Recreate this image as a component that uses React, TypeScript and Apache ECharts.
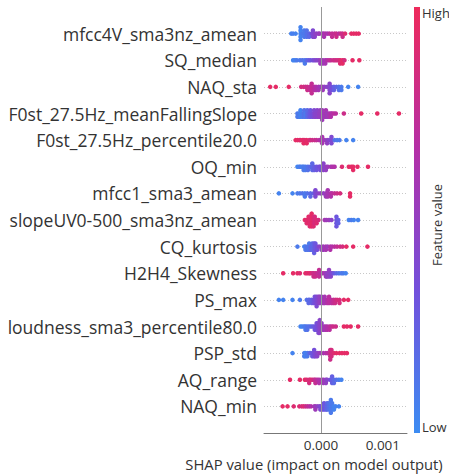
import React, { useEffect, useRef } from "react";
import * as echarts from "echarts";

// Feature names, top to bottom
const FEATURES = [
  "mfcc4V_sma3nz_amean",
  "SQ_median",
  "NAQ_sta",
  "F0st_27.5Hz_meanFallingSlope",
  "F0st_27.5Hz_percentile20.0",
  "OQ_min",
  "mfcc1_sma3_amean",
  "slopeUV0-500_sma3nz_amean",
  "CQ_kurtosis",
  "H2H4_Skewness",
  "PS_max",
  "loudness_sma3_percentile80.0",
  "PSP_std",
  "AQ_range",
  "NAQ_min",
];

// Each entry: [SHAP value in units of 1e-3, normalised feature value (0 low .. 1 high), number of samples]
const mfcc4V: number[][] = [
  [-0.48, 0.05, 1], [-0.45, 0.08, 1], [-0.41, 0.05, 1],
  [-0.33, 0.05, 5], [-0.30, 0.1, 1], [-0.27, 0.1, 3], [-0.23, 0.15, 3], [-0.19, 0.2, 2],
  [-0.15, 0.35, 1], [-0.13, 0.4, 3], [-0.10, 0.45, 2], [-0.07, 0.5, 1], [-0.04, 0.5, 1], [-0.02, 0.55, 1],
  [0.03, 0.55, 1], [0.05, 0.6, 2], [0.08, 0.65, 1], [0.11, 0.6, 1], [0.14, 0.7, 1],
  [0.18, 0.75, 2], [0.22, 0.75, 1], [0.25, 0.8, 2], [0.29, 0.7, 1], [0.32, 0.8, 1], [0.35, 0.8, 2], [0.39, 0.9, 1],
  [0.49, 0.95, 1], [0.53, 0.95, 1], [0.57, 0.95, 1], [0.61, 0.95, 1],
];
const sqMedian: number[][] = [
  [-0.45, 0.05, 1], [-0.42, 0.05, 1], [-0.39, 0.1, 1],
  [-0.34, 0.1, 1], [-0.30, 0.15, 1], [-0.26, 0.1, 2], [-0.23, 0.2, 1], [-0.20, 0.25, 1], [-0.17, 0.3, 1],
  [-0.13, 0.35, 1], [-0.10, 0.4, 1], [-0.07, 0.45, 1], [-0.04, 0.45, 1],
  [-0.01, 0.55, 2], [0.03, 0.55, 2], [0.07, 0.6, 2], [0.10, 0.65, 1], [0.13, 0.7, 1], [0.16, 0.75, 1],
  [0.20, 0.8, 1], [0.23, 0.8, 1], [0.26, 0.85, 1], [0.29, 0.8, 1], [0.31, 0.9, 2], [0.35, 0.95, 2], [0.38, 0.85, 1],
  [0.51, 0.95, 1], [0.62, 0.95, 1],
];
const naqSta: number[][] = [
  [-0.82, 0.95, 1], [-0.73, 0.95, 1], [-0.52, 0.95, 1],
  [-0.32, 0.85, 1], [-0.28, 0.85, 1], [-0.25, 0.8, 1], [-0.22, 0.8, 2], [-0.18, 0.75, 2], [-0.15, 0.75, 4],
  [-0.11, 0.7, 2], [-0.08, 0.65, 2], [-0.04, 0.6, 2], [-0.01, 0.55, 1], [0.03, 0.55, 2], [0.06, 0.5, 1],
  [0.10, 0.45, 1], [0.14, 0.45, 4], [0.17, 0.35, 2], [0.21, 0.25, 2], [0.25, 0.2, 1], [0.29, 0.15, 2],
  [0.33, 0.1, 2], [0.44, 0.05, 1], [0.60, 0.05, 1],
];
const f0Falling: number[][] = [
  [-0.38, 0.1, 2], [-0.35, 0.1, 2], [-0.33, 0.05, 3], [-0.30, 0.1, 2], [-0.27, 0.15, 3], [-0.25, 0.1, 2],
  [-0.22, 0.2, 3], [-0.19, 0.25, 2], [-0.17, 0.3, 3], [-0.14, 0.35, 2], [-0.11, 0.4, 3], [-0.09, 0.45, 2],
  [-0.06, 0.45, 3], [-0.03, 0.5, 2], [-0.01, 0.5, 3], [0.02, 0.55, 4], [0.05, 0.55, 2], [0.08, 0.6, 3],
  [0.10, 0.55, 2], [0.13, 0.6, 2], [0.16, 0.65, 2], [0.18, 0.65, 1], [0.21, 0.7, 1], [0.24, 0.7, 1],
  [0.37, 0.8, 1], [0.65, 0.95, 1], [0.91, 0.95, 1], [1.26, 0.95, 1],
];
const f0P20: number[][] = [
  [-0.41, 0.95, 1], [-0.38, 0.95, 1], [-0.35, 0.95, 1], [-0.33, 0.9, 1], [-0.30, 0.95, 1], [-0.28, 0.95, 2],
  [-0.26, 0.9, 1], [-0.23, 0.95, 2], [-0.19, 0.9, 1], [-0.17, 0.85, 1], [-0.14, 0.8, 1], [-0.10, 0.8, 1],
  [-0.07, 0.75, 1], [-0.03, 0.7, 1], [-0.01, 0.65, 1], [0.02, 0.6, 3], [0.06, 0.55, 1], [0.10, 0.5, 2],
  [0.13, 0.45, 1], [0.17, 0.4, 3], [0.22, 0.15, 1], [0.26, 0.1, 1], [0.30, 0.1, 1], [0.41, 0.05, 1], [0.52, 0.05, 1],
];
const oqMin: number[][] = [
  [-0.38, 0.05, 1], [-0.35, 0.05, 1], [-0.33, 0.1, 1], [-0.30, 0.05, 1], [-0.28, 0.1, 2], [-0.25, 0.1, 2],
  [-0.21, 0.15, 2], [-0.17, 0.2, 1], [-0.14, 0.2, 3], [-0.11, 0.25, 2], [-0.07, 0.3, 2], [-0.03, 0.35, 1],
  [-0.01, 0.35, 2], [0.04, 0.45, 3], [0.08, 0.5, 2], [0.11, 0.55, 1], [0.16, 0.6, 1], [0.19, 0.65, 1],
  [0.22, 0.65, 1], [0.34, 0.9, 1], [0.45, 0.95, 1], [0.49, 0.95, 1], [0.52, 0.95, 2], [0.59, 0.95, 1], [0.76, 0.95, 1],
];
const mfcc1: number[][] = [
  [-0.68, 0.05, 1], [-0.46, 0.05, 1], [-0.38, 0.1, 1], [-0.34, 0.1, 1], [-0.30, 0.15, 1], [-0.26, 0.1, 2],
  [-0.22, 0.15, 1], [-0.17, 0.2, 2], [-0.12, 0.25, 1], [-0.09, 0.4, 3], [-0.05, 0.45, 1], [-0.01, 0.5, 1],
  [0.04, 0.5, 1], [0.08, 0.55, 2], [0.11, 0.6, 3], [0.16, 0.65, 2], [0.18, 0.7, 1], [0.22, 0.75, 1],
  [0.26, 0.8, 1], [0.31, 0.85, 1], [0.47, 0.95, 2],
];
const slopeUV: number[][] = [
  [-0.26, 0.95, 1], [-0.23, 0.9, 2], [-0.20, 0.95, 3], [-0.18, 0.9, 4], [-0.15, 0.95, 5], [-0.12, 0.9, 4],
  [-0.10, 0.85, 3], [-0.07, 0.9, 2], [-0.04, 0.85, 1], [0.06, 0.6, 1], [0.09, 0.55, 1], [0.13, 0.55, 1],
  [0.17, 0.45, 1], [0.25, 0.3, 4], [0.28, 0.25, 2], [0.45, 0.05, 1], [0.49, 0.1, 1], [0.53, 0.05, 1], [0.60, 0.05, 1],
];
const cqKurtosis: number[][] = [
  [-0.38, 0.1, 1], [-0.27, 0.05, 1], [-0.25, 0.1, 2], [-0.22, 0.15, 2], [-0.19, 0.1, 3], [-0.17, 0.2, 2],
  [-0.14, 0.2, 3], [-0.11, 0.25, 4], [-0.09, 0.3, 3], [-0.06, 0.35, 2], [-0.03, 0.45, 1], [0.01, 0.5, 2],
  [0.04, 0.55, 2], [0.08, 0.6, 2], [0.11, 0.55, 1], [0.15, 0.65, 2], [0.18, 0.65, 1], [0.22, 0.7, 1],
  [0.26, 0.75, 1], [0.31, 0.8, 1], [0.35, 0.85, 1], [0.41, 0.95, 1], [0.52, 0.95, 1], [0.75, 0.95, 1],
];
const h2h4: number[][] = [
  [-0.61, 0.95, 1], [-0.45, 0.95, 1], [-0.38, 0.95, 1], [-0.34, 0.9, 1], [-0.25, 0.95, 1], [-0.22, 0.9, 1],
  [-0.19, 0.95, 1], [-0.17, 0.9, 1], [-0.14, 0.85, 1], [-0.12, 0.8, 2], [-0.09, 0.8, 2], [-0.06, 0.75, 1],
  [-0.03, 0.75, 3], [-0.01, 0.7, 1], [0.02, 0.65, 1], [0.05, 0.6, 1], [0.08, 0.55, 2], [0.10, 0.5, 2],
  [0.13, 0.5, 3], [0.16, 0.45, 2], [0.18, 0.4, 1], [0.21, 0.3, 1], [0.25, 0.2, 1], [0.29, 0.15, 1],
  [0.33, 0.1, 1], [0.36, 0.1, 1], [0.40, 0.05, 1],
];
const psMax: number[][] = [
  [-0.68, 0.05, 1], [-0.61, 0.05, 1], [-0.46, 0.05, 1], [-0.34, 0.1, 1], [-0.23, 0.15, 1], [-0.20, 0.2, 2],
  [-0.18, 0.2, 1], [-0.15, 0.25, 2], [-0.12, 0.3, 2], [-0.10, 0.35, 3], [-0.07, 0.4, 4], [-0.04, 0.45, 3],
  [-0.02, 0.5, 3], [0.01, 0.5, 3], [0.04, 0.55, 2], [0.06, 0.6, 3], [0.10, 0.65, 2], [0.13, 0.7, 3],
  [0.17, 0.7, 2], [0.20, 0.75, 2], [0.23, 0.8, 2], [0.26, 0.85, 1], [0.30, 0.85, 2], [0.37, 0.95, 1], [0.44, 0.95, 1],
];
const loudness: number[][] = [
  [-0.33, 0.05, 1], [-0.30, 0.05, 1], [-0.27, 0.1, 1], [-0.25, 0.1, 2], [-0.22, 0.15, 2], [-0.19, 0.15, 1],
  [-0.16, 0.2, 1], [-0.13, 0.25, 1], [-0.10, 0.3, 2], [-0.07, 0.35, 3], [-0.04, 0.4, 4], [-0.02, 0.45, 5],
  [0.01, 0.5, 3], [0.04, 0.55, 2], [0.07, 0.6, 2], [0.10, 0.65, 2], [0.14, 0.7, 2], [0.17, 0.75, 1],
  [0.20, 0.8, 1], [0.24, 0.8, 1], [0.37, 0.95, 1], [0.42, 0.95, 1], [0.48, 0.95, 1], [0.60, 0.95, 1],
];
const pspStd: number[][] = [
  [-0.46, 0.05, 1], [-0.27, 0.1, 2], [-0.25, 0.05, 2], [-0.22, 0.1, 2], [-0.19, 0.15, 1], [-0.17, 0.25, 1],
  [-0.14, 0.3, 2], [-0.11, 0.35, 3], [-0.09, 0.4, 2], [-0.06, 0.45, 2], [-0.03, 0.5, 1], [-0.01, 0.55, 1],
  [0.04, 0.6, 1], [0.08, 0.65, 1], [0.11, 0.7, 1], [0.15, 0.8, 4], [0.17, 0.85, 3], [0.21, 0.9, 1],
  [0.25, 0.95, 1], [0.30, 0.95, 1], [0.34, 0.95, 1], [0.38, 0.95, 1], [0.42, 0.95, 1],
];
const aqRange: number[][] = [
  [-0.50, 0.95, 1], [-0.34, 0.95, 1], [-0.26, 0.95, 1], [-0.23, 0.9, 1], [-0.19, 0.85, 2], [-0.17, 0.9, 1],
  [-0.14, 0.85, 1], [-0.11, 0.8, 1], [-0.09, 0.75, 2], [-0.06, 0.7, 1], [-0.03, 0.65, 2], [0.01, 0.6, 1],
  [0.04, 0.55, 2], [0.08, 0.5, 2], [0.10, 0.45, 1], [0.15, 0.35, 1], [0.18, 0.25, 3], [0.21, 0.2, 2],
  [0.25, 0.15, 1], [0.29, 0.1, 1], [0.33, 0.05, 1],
];
const naqMin: number[][] = [
  [-0.62, 0.95, 1], [-0.54, 0.95, 1], [-0.44, 0.9, 1], [-0.35, 0.9, 1], [-0.31, 0.85, 1], [-0.28, 0.9, 1],
  [-0.25, 0.8, 1], [-0.22, 0.75, 1], [-0.19, 0.7, 1], [-0.16, 0.65, 1], [-0.11, 0.6, 1], [-0.09, 0.55, 2],
  [-0.06, 0.5, 1], [-0.03, 0.45, 1], [-0.01, 0.4, 2], [0.02, 0.35, 2], [0.05, 0.3, 3], [0.08, 0.25, 2],
  [0.10, 0.2, 3], [0.13, 0.15, 3], [0.16, 0.1, 5], [0.18, 0.1, 3], [0.21, 0.05, 2], [0.24, 0.05, 1], [0.29, 0.05, 1],
];

const ROWS = [
  mfcc4V, sqMedian, naqSta, f0Falling, f0P20, oqMin, mfcc1, slopeUV,
  cqKurtosis, h2h4, psMax, loudness, pspStd, aqRange, naqMin,
];

const X_TICKS = [0, 0.001];
const UNIT = 1e-3;
const COLOR_LOW = "#3c8cf2";
const COLOR_HIGH = "#ee2a5b";
const PALETTE = [COLOR_LOW, "#7250dc", "#b42fa6", COLOR_HIGH];
const FONT = "'Open Sans', 'Noto Sans', sans-serif";

// SHAP-style beeswarm layout: points in the same x-bin are stacked alternately above/below the row
function swarm(xs: number[]): number[] {
  const mn = Math.min(...xs);
  const mx = Math.max(...xs);
  const nbins = 100;
  const quant = xs.map((x) => Math.round((nbins * (x - mn)) / (mx - mn + 1e-8)));
  const order = xs.map((_, i) => i).sort((a, b) => quant[a] - quant[b] || a - b);
  const ys = new Array(xs.length).fill(0);
  let layer = 0;
  let last = -1;
  for (const ind of order) {
    if (quant[ind] !== last) layer = 0;
    ys[ind] = Math.ceil(layer / 2) * ((layer % 2) * 2 - 1);
    layer += 1;
    last = quant[ind];
  }
  return ys;
}

export default function App() {
  const ref = useRef<HTMLDivElement>(null);
  useEffect(() => {
    if (!ref.current) return;
    const chart = echarts.init(ref.current, null, { renderer: "svg" });
    const STEP = 0.12;
    const points: number[][] = [];
    ROWS.forEach((row, r) => {
      const xs: number[] = [];
      const fv: number[] = [];
      row.forEach(([x, v, n]) => {
        for (let k = 0; k < n; k++) {
          xs.push(x);
          fv.push(v);
        }
      });
      const ys = swarm(xs);
      xs.forEach((x, i) => points.push([x * UNIT, r + ys[i] * STEP, fv[i]]));
    });

    // dotted row guides at 0..n-1 only (hide the ones at the axis ends)
    const guideColors = ["rgba(0,0,0,0)"]
      .concat(FEATURES.map(() => "#c8c8c8"))
      .concat(["rgba(0,0,0,0)"]);

    chart.setOption({
      animation: false,
      grid: { left: 264, right: 42, top: 7, bottom: 42 },
      xAxis: {
        type: "value",
        min: -0.00092,
        max: 0.00139,
        axisLine: { show: true, onZero: false, lineStyle: { color: "#777", width: 1 } },
        axisTick: { show: false },
        splitLine: { show: false },
        axisLabel: {
          customValues: X_TICKS,
          formatter: (v: number) => v.toFixed(3),
          fontFamily: FONT,
          fontSize: 13.5,
          color: "#333",
          margin: 5,
        },
      },
      yAxis: {
        type: "value",
        min: -1,
        max: FEATURES.length,
        interval: 1,
        inverse: true,
        axisLine: { show: false, onZero: false },
        axisTick: { show: false },
        splitLine: {
          show: true,
          lineStyle: { color: guideColors, type: [1, 2], width: 1 },
        },
        axisLabel: {
          formatter: (v: number) => FEATURES[v] ?? "",
          fontFamily: FONT,
          fontSize: 17.5,
          color: "#333",
          margin: 7,
        },
      },
      visualMap: {
        show: false,
        type: "continuous",
        dimension: 2,
        min: 0,
        max: 1,
        seriesIndex: 0,
        inRange: { color: PALETTE },
      },
      series: [
        {
          type: "scatter",
          data: points,
          symbolSize: 4.5,
          itemStyle: { opacity: 1 },
          z: 3,
        },
        {
          type: "scatter",
          data: [],
          silent: true,
          z: 2,
          markLine: {
            silent: true,
            symbol: "none",
            label: { show: false },
            lineStyle: { color: "#999", type: "solid", width: 1 },
            data: [{ xAxis: 0 }],
          },
        },
      ],
      graphic: [
        {
          type: "rect",
          shape: { x: 414, y: 7, width: 6, height: 426 },
          style: {
            fill: new echarts.graphic.LinearGradient(0, 0, 0, 1, [
              { offset: 0, color: PALETTE[3] },
              { offset: 1 / 3, color: PALETTE[2] },
              { offset: 2 / 3, color: PALETTE[1] },
              { offset: 1, color: PALETTE[0] },
            ]),
          },
        },
        {
          type: "text",
          x: 422,
          y: 13,
          style: { text: "High", fontFamily: FONT, fontSize: 13, fill: "#333", verticalAlign: "middle" },
        },
        {
          type: "text",
          x: 422,
          y: 427,
          style: { text: "Low", fontFamily: FONT, fontSize: 13, fill: "#333", verticalAlign: "middle" },
        },
        {
          type: "text",
          x: 437,
          y: 225,
          rotation: Math.PI / 2,
          style: {
            text: "Feature value",
            fontFamily: FONT,
            fontSize: 13,
            fill: "#333",
            align: "center",
            verticalAlign: "middle",
          },
        },
        {
          type: "text",
          x: 314,
          y: 464,
          style: {
            text: "SHAP value (impact on model output)",
            fontFamily: FONT,
            fontSize: 14.8,
            fill: "#333",
            align: "center",
            verticalAlign: "middle",
          },
        },
      ],
    });
    return () => chart.dispose();
  }, []);
  return (
    <div
      ref={ref}
      style={{ position: "absolute", left: 0, top: 0, width: 449, height: 475 }}
    />
  );
}
